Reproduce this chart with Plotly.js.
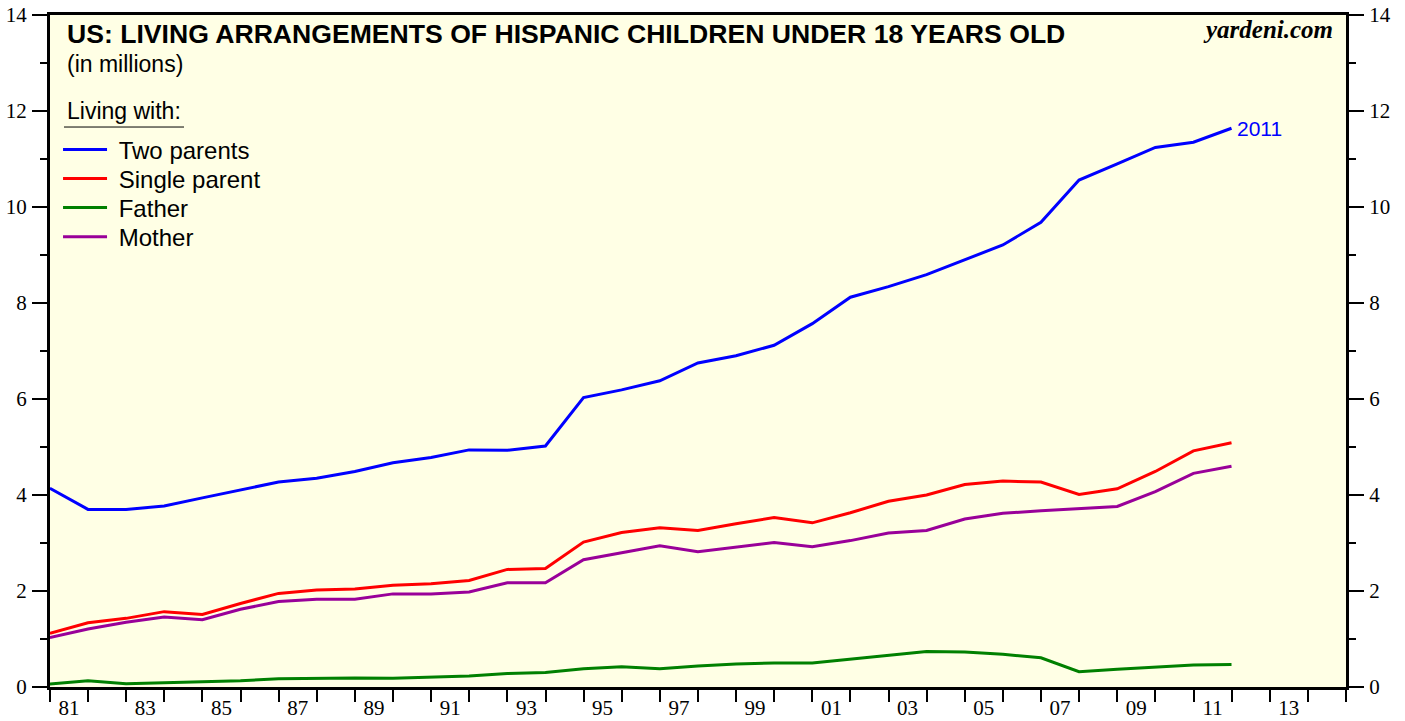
<!DOCTYPE html>
<html>
<head>
<meta charset="utf-8">
<script src="https://cdn.plot.ly/plotly-3.0.1.min.js"></script>
<style>html,body{margin:0;padding:0;background:#fff;}#chart{width:1405px;height:721px;}</style>
</head>
<body>
<div id="chart"></div>
<script>
// Data years (values plotted at year end)
const years = [1980,1981,1982,1983,1984,1985,1986,1987,1988,1989,1990,1991,1992,1993,1994,1995,
               1996,1997,1998,1999,2000,2001,2002,2003,2004,2005,2006,2007,2008,2009,2010,2011];
// Millions of Hispanic children under 18, by living arrangement
const twoParents   = [4.14,3.70,3.70,3.77,3.94,4.11,4.27,4.35,4.49,4.67,4.78,4.94,4.93,5.02,6.03,6.19,
                      6.38,6.75,6.90,7.12,7.57,8.12,8.34,8.59,8.90,9.21,9.68,10.56,10.90,11.24,11.35,11.64];
const singleParent = [1.12,1.34,1.43,1.57,1.51,1.74,1.95,2.02,2.04,2.12,2.15,2.22,2.45,2.47,3.02,3.22,
                      3.32,3.26,3.40,3.53,3.42,3.63,3.87,4.00,4.22,4.29,4.27,4.01,4.13,4.49,4.92,5.09];
const father       = [0.06,0.13,0.07,0.09,0.10,0.13,0.17,0.18,0.19,0.18,0.21,0.23,0.28,0.30,0.38,0.42,
                      0.38,0.44,0.48,0.50,0.50,0.58,0.65,0.74,0.73,0.68,0.61,0.32,0.37,0.41,0.46,0.47];
const mother       = [1.03,1.21,1.35,1.46,1.40,1.62,1.78,1.83,1.83,1.94,1.94,1.98,2.17,2.17,2.65,2.80,
                      2.94,2.82,2.92,3.01,2.92,3.05,3.21,3.26,3.50,3.62,3.67,3.71,3.76,4.07,4.45,4.60];
const seriesNames  = ['Two parents','Single parent','Father','Mother'];
const seriesColors = ['#0000FF','#FF0000','#008000','#990099'];
// X tick labels (odd years, centred in the year)
const labelYears = [1981,1983,1985,1987,1989,1991,1993,1995,1997,1999,2001,2003,2005,2007,2009,2011,2013];
const labelText  = ['81','83','85','87','89','91','93','95','97','99','01','03','05','07','09','11','13'];

const xDates = years.map(y => y + '-12-31');
const serif = 'Liberation Serif, Times New Roman, serif';
const sans = 'Liberation Sans, Arial, sans-serif';

const legendIds = ['legend', 'legend2', 'legend3', 'legend4'];
const legendY = [0.7991, 0.7560, 0.7128, 0.6696];

const allSeries = [twoParents, singleParent, father, mother];
const traces = allSeries.map((vals, i) => ({
  x: xDates, y: vals, type: 'scatter', mode: 'lines',
  name: '&nbsp;' + seriesNames[i],
  line: {color: seriesColors[i], width: 3},
  yaxis: i === 2 ? 'y2' : 'y',
  legend: legendIds[i],
  hoverinfo: 'x+y'
}));

const yCommon = {
  range: [0, 14], dtick: 2, tick0: 0,
  ticks: 'outside', ticklen: 15, tickwidth: 1.5, tickcolor: '#000',
  showline: true, linewidth: 3, linecolor: '#000',
  showgrid: false, zeroline: false,
  tickfont: {family: serif, size: 21, color: '#000'},
  ticklabelstandoff: 1,
  minor: {dtick: 1, tick0: 0, ticks: 'outside', ticklen: 7, tickwidth: 1.5, tickcolor: '#000', showgrid: false}
};

const layout = {
  width: 1405, height: 721,
  margin: {l: 50, r: 59, t: 15, b: 34, pad: 0},
  paper_bgcolor: '#FFFFFF',
  plot_bgcolor: '#FFFFE5',
  showlegend: true,
  xaxis: {
    type: 'date',
    range: ['1981-01-01', '2015-01-01'],
    tickmode: 'array',
    tickvals: labelYears.map(y => y + '-07-02'),
    ticktext: labelText,
    ticks: '',
    showline: true, linewidth: 3, linecolor: '#000', mirror: true,
    showgrid: false, zeroline: false,
    tickfont: {family: serif, size: 21, color: '#000'},
    minor: {tickmode: 'array', tickvals: Array.from({length: 35}, (_, k) => (1981 + k) + '-01-01'),
            ticks: 'outside', ticklen: 12, tickwidth: 2, tickcolor: '#000', showgrid: false}
  },
  yaxis: Object.assign({}, yCommon, {side: 'left'}),
  yaxis2: Object.assign({}, yCommon, {side: 'right', overlaying: 'y'}),
  shapes: [
    {type: 'line', xref: 'paper', yref: 'paper', x0: 0.0108, x1: 0.1034, y0: 0.8333, y1: 0.8333,
     line: {color: '#000', width: 1}}
  ],
  annotations: [
    {xref: 'paper', yref: 'paper', x: 0.0116, y: 0.9715, xanchor: 'left', yanchor: 'middle',
     text: '<b>US: LIVING ARRANGEMENTS OF HISPANIC CHILDREN UNDER 18 YEARS OLD</b>',
     showarrow: false, font: {family: sans, size: 26.6, color: '#000'}},
    {xref: 'paper', yref: 'paper', x: 0.0116, y: 0.927, xanchor: 'left', yanchor: 'middle',
     text: '(in millions)', showarrow: false, font: {family: sans, size: 23, color: '#000'}},
    {xref: 'paper', yref: 'paper', x: 0.0116, y: 0.857, xanchor: 'left', yanchor: 'middle',
     text: 'Living with:', showarrow: false, font: {family: sans, size: 23, color: '#000'}},
    {xref: 'paper', yref: 'paper', x: 0.9915, y: 0.9777, xanchor: 'right', yanchor: 'middle',
     text: '<b><i>yardeni.com</i></b>', showarrow: false, font: {family: serif, size: 25, color: '#000'}},
    {xref: 'x', yref: 'y', x: xDates[xDates.length - 1], y: twoParents[twoParents.length - 1],
     xanchor: 'left', yanchor: 'middle', xshift: 3, text: String(years[years.length - 1]),
     showarrow: false, font: {family: sans, size: 21, color: '#0000FF'}}
  ]
};

legendIds.forEach((id, i) => {
  layout[id] = {
    x: 0.0062, y: legendY[i], xanchor: 'left', yanchor: 'middle',
    bgcolor: 'rgba(0,0,0,0)', borderwidth: 0,
    font: {family: sans, size: 24, color: '#000'},
    itemwidth: 44
  };
});

Plotly.newPlot('chart', traces, layout, {displayModeBar: false, staticPlot: true});
</script>
</body>
</html>
